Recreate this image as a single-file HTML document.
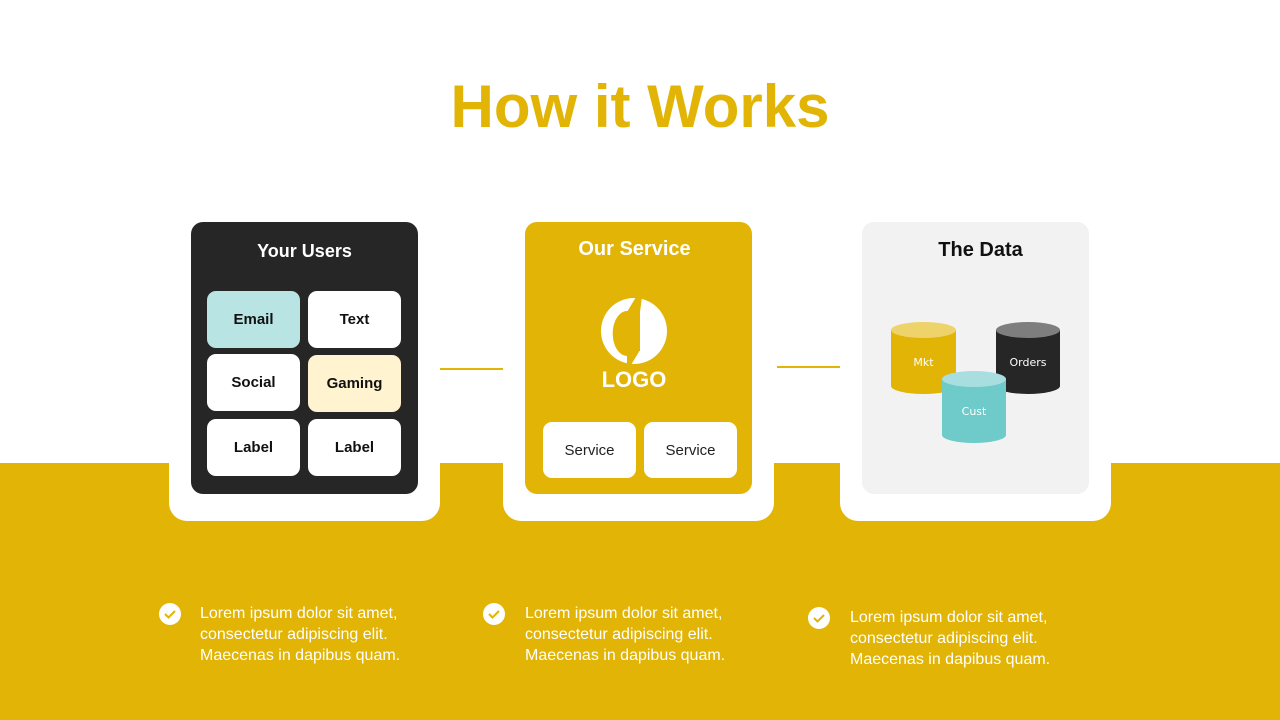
<!DOCTYPE html>
<html><head><style>
*{margin:0;padding:0;box-sizing:border-box}
body{width:1280px;height:720px;position:relative;overflow:hidden;background:#fff;font-family:"Liberation Sans",sans-serif}
.abs{position:absolute}
.band{left:0;top:463px;width:1280px;height:257px;background:#E1B405}
.outer{top:440px;height:81px;width:271px;background:#fff;border-radius:18px}
.inner{top:222px;width:227px;height:272px;border-radius:12px}
.tile{width:93px;height:57px;border-radius:9px;background:#fff;display:flex;align-items:center;justify-content:center;font-weight:bold;font-size:15px;color:#111}
.h{width:227px;text-align:center;font-weight:bold;font-size:19px}
.svc{top:422px;width:93px;height:56px;background:#fff;border-radius:9px;display:flex;align-items:center;justify-content:center;font-size:15px;color:#222}
.line{height:2px;background:#E1B405}
.txt{color:#fff;font-size:16px;line-height:21px}
</style></head><body>
<div class="abs" style="left:0;top:72px;width:1280px;text-align:center;font-weight:bold;font-size:60px;color:#E1B405">How it Works</div>
<div class="abs band"></div>
<div class="abs outer" style="left:169px"></div>
<div class="abs outer" style="left:503px"></div>
<div class="abs outer" style="left:840px"></div>
<div class="abs line" style="left:440px;top:368px;width:63px"></div>
<div class="abs line" style="left:777px;top:366px;width:63px"></div>

<div class="abs inner" style="left:191px;background:#262626"></div>
<div class="abs h" style="left:191px;top:241px;color:#fff;font-size:18px">Your Users</div>
<div class="abs tile" style="left:207px;top:291px;background:#B8E4E4">Email</div>
<div class="abs tile" style="left:308px;top:291px">Text</div>
<div class="abs tile" style="left:207px;top:354px">Social</div>
<div class="abs tile" style="left:308px;top:355px;background:#FFF4CF">Gaming</div>
<div class="abs tile" style="left:207px;top:419px">Label</div>
<div class="abs tile" style="left:308px;top:419px">Label</div>

<div class="abs inner" style="left:525px;background:#E1B405"></div>
<div class="abs h" style="left:521px;top:238px;color:#fff;font-size:20px">Our Service</div>
<svg class="abs" style="left:0;top:0" width="1280" height="720">
<circle cx="634" cy="331" r="33" fill="#fff"/>
<path d="M627 311 A14 22 0 0 0 627 356 Z" fill="#E1B405"/>
<rect x="627" y="311" width="13" height="40" fill="#E1B405"/>
<polygon points="636,297 642,297 640,312 627,312" fill="#E1B405"/>
<polygon points="627,350 640,350 631,365 627,365" fill="#E1B405"/>
</svg>
<div class="abs" style="left:525px;top:367px;width:218px;text-align:center;color:#fff;font-weight:bold;font-size:22px">LOGO</div>
<div class="abs svc" style="left:543px">Service</div>
<div class="abs svc" style="left:644px">Service</div>

<div class="abs inner" style="left:862px;background:#F2F2F2"></div>
<div class="abs h" style="left:867px;top:239px;color:#111;font-size:20px">The Data</div>
<svg class="abs" style="left:880px;top:315px" width="200" height="135">
<g><rect x="11" y="15" width="65" height="56" fill="#E1B405"/><ellipse cx="43.5" cy="71" rx="32.5" ry="8" fill="#E1B405"/><ellipse cx="43.5" cy="15" rx="32.5" ry="8" fill="#EED26A"/><text x="43.5" y="51" fill="#fff" font-size="11" text-anchor="middle" font-family="DejaVu Sans">Mkt</text></g>
<g><rect x="116" y="15" width="64" height="56" fill="#262626"/><ellipse cx="148" cy="71" rx="32" ry="8" fill="#262626"/><ellipse cx="148" cy="15" rx="32" ry="8" fill="#7E7E7E"/><text x="148" y="51" fill="#fff" font-size="11" text-anchor="middle" font-family="DejaVu Sans">Orders</text></g>
<g><rect x="62" y="64" width="64" height="56" fill="#6FCACA"/><ellipse cx="94" cy="120" rx="32" ry="8" fill="#6FCACA"/><ellipse cx="94" cy="64" rx="32" ry="8" fill="#A8DEDF"/><text x="94" y="100" fill="#fff" font-size="11" text-anchor="middle" font-family="DejaVu Sans">Cust</text></g>
</svg>

<svg class="abs" style="left:159px;top:603px" width="22" height="22"><circle cx="11" cy="11" r="11" fill="#fff"/><path d="M6 11 L9.5 14.5 L16 8" stroke="#E1B405" stroke-width="2" fill="none"/></svg>
<div class="abs txt" style="left:200px;top:603px">Lorem ipsum dolor sit amet,<br>consectetur adipiscing elit.<br>Maecenas in dapibus quam.</div>
<svg class="abs" style="left:483px;top:603px" width="22" height="22"><circle cx="11" cy="11" r="11" fill="#fff"/><path d="M6 11 L9.5 14.5 L16 8" stroke="#E1B405" stroke-width="2" fill="none"/></svg>
<div class="abs txt" style="left:525px;top:603px">Lorem ipsum dolor sit amet,<br>consectetur adipiscing elit.<br>Maecenas in dapibus quam.</div>
<svg class="abs" style="left:808px;top:607px" width="22" height="22"><circle cx="11" cy="11" r="11" fill="#fff"/><path d="M6 11 L9.5 14.5 L16 8" stroke="#E1B405" stroke-width="2" fill="none"/></svg>
<div class="abs txt" style="left:850px;top:607px">Lorem ipsum dolor sit amet,<br>consectetur adipiscing elit.<br>Maecenas in dapibus quam.</div>
</body></html>
